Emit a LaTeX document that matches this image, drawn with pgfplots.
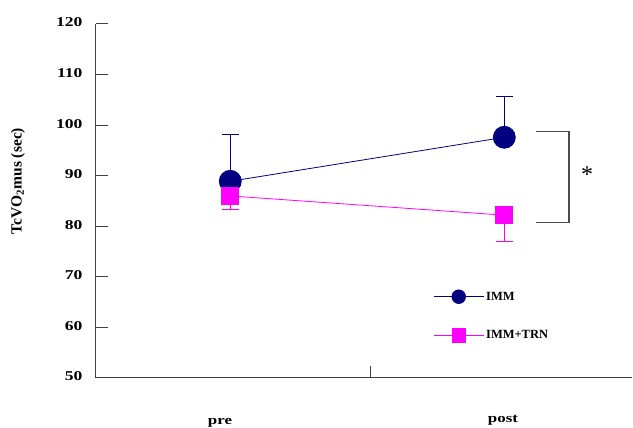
\documentclass[border=0pt]{standalone}
\usepackage{fontspec}
\setmainfont{Liberation Serif}
\newfontfamily\widefont[FakeStretch=1.3]{Liberation Serif}
\usepackage{pgfplots}
\pgfplotsset{compat=1.18}
\definecolor{navy}{HTML}{000080}
\definecolor{mag}{HTML}{FF00FF}
\begin{document}
\begin{tikzpicture}
\path[use as bounding box] (0,0) rectangle (633pt,428pt);
\begin{axis}[
  at={(96pt,50pt)}, anchor=south west,
  scale only axis, width=536pt, height=354pt,
  xmin=0, xmax=1.956, ymin=50, ymax=120,
  axis x line=bottom, axis y line=left,
  axis line style={-, black!75, line width=1pt},
  xtick={1}, xticklabels={},
  ytick={50,60,...,120},
  tick align=inside, major tick length=12pt,
  tick style={black!75, line width=1pt},
  yticklabel style={font=\widefont\bfseries\fontsize{13.5}{15}\selectfont, xshift=-10pt, yshift=1.5pt},
  /pgf/number format/assume math mode=true,
  clip=false,
  legend style={draw=none, fill=none, at={(0.629,0.175)}, anchor=west,
    inner sep=0pt, row sep=25pt,
    font=\bfseries\fontsize{12.5}{14}\selectfont},
  legend cell align=left,
  legend image code/.code={\draw[mark repeat=2,mark phase=2,#1,mark size=6.8pt] plot coordinates {(0pt,0pt) (25pt,0pt) (50pt,0pt)};},
]
\addplot[navy, line width=0.8pt, mark=*, mark size=11pt,
  mark options={fill=navy, draw=navy},
  error bars/.cd, y dir=plus, y explicit, error mark=|,
  error bar style={line width=1pt, navy},
  error mark options={line width=1pt, mark size=8.5pt, navy}]
  coordinates {(0.49,88.9) +- (0,9.3) (1.49,97.6) +- (0,8.1)};
\addlegendentry{IMM}
\addplot[mag, line width=0.8pt, mark=square*, mark size=8.5pt,
  mark options={fill=mag, draw=mag},
  error bars/.cd, y dir=minus, y explicit, error mark=|,
  error bar style={line width=1pt, mag},
  error mark options={line width=1pt, mark size=8.5pt, mag}]
  coordinates {(0.49,86.0) +- (0,2.6) (1.49,82.2) +- (0,5.3)};
\addlegendentry{IMM+TRN}
\end{axis}
\draw[black!70, line width=1.2pt] (536pt,296.3pt) -- (569pt,296.3pt) -- (569pt,205.7pt) -- (536pt,205.7pt);
\node[font=\fontsize{24}{26}\selectfont] at (587pt,253pt) {*};
\node[rotate=90, font=\bfseries\fontsize{15.5}{17}\selectfont] at (18pt,247pt) {TcVO\textsubscript{2}mus (sec)};
\node[anchor=base, font=\widefont\bfseries\fontsize{13}{15}\selectfont] at (220pt,3pt) {pre};
\node[anchor=base, font=\widefont\bfseries\fontsize{13}{15}\selectfont] at (503pt,5pt) {post};
\end{tikzpicture}
\end{document}
